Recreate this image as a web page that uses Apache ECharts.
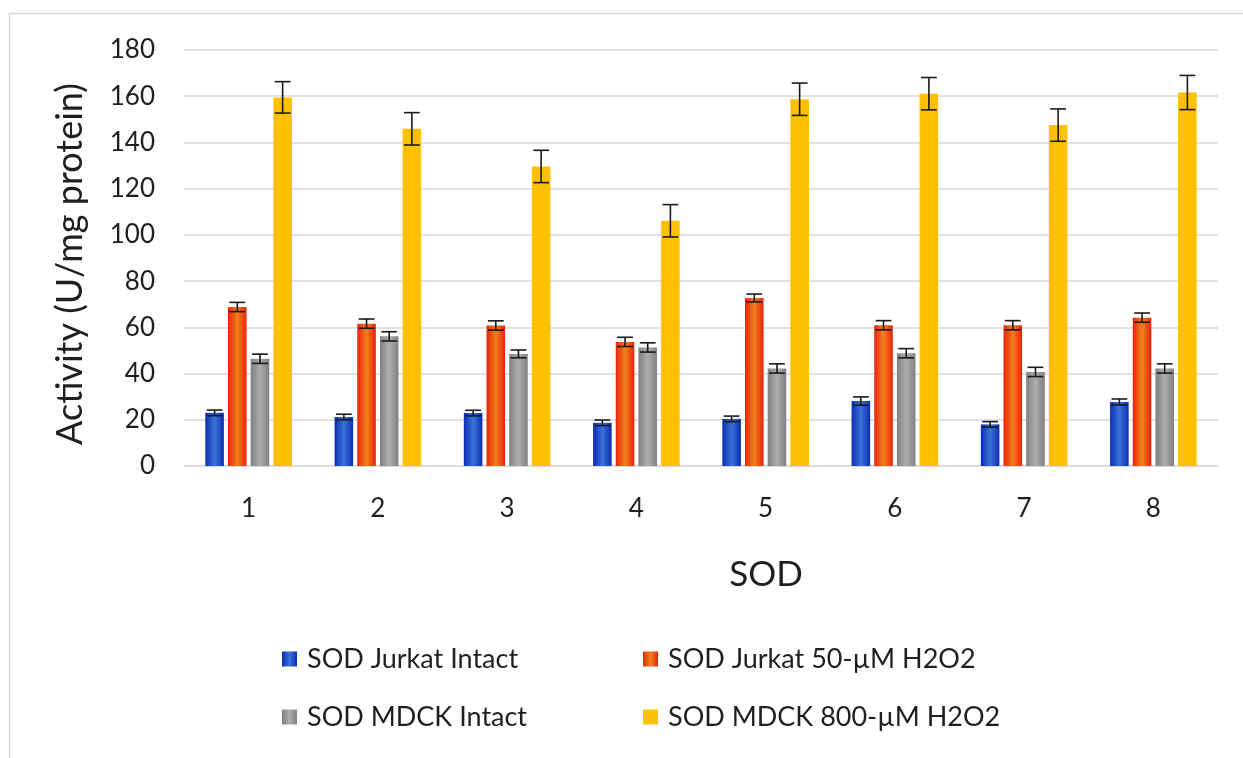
<!DOCTYPE html>
<html>
<head>
<meta charset="utf-8">
<script src="https://cdn.jsdelivr.net/npm/echarts@6/dist/echarts.min.js"></script>
<style>
html,body{margin:0;padding:0;background:#fff;}
#chart{width:1243px;height:758px;}
</style>
</head>
<body>
<div id="chart"></div>
<script>
const categories = ['1','2','3','4','5','6','7','8'];
const seriesNames = ['SOD Jurkat Intact','SOD Jurkat 50-\u00B5M H2O2','SOD MDCK Intact','SOD MDCK 800-\u00B5M H2O2'];
const jurkatIntact = [23, 21.2, 22.9, 18.7, 20.4, 28.1, 18, 27.7];
const jurkatH2O2 = [68.8, 61.6, 60.8, 53.7, 72.7, 60.9, 60.9, 64.2];
const mdckIntact = [46.4, 56.1, 48.5, 51.3, 42.2, 48.8, 40.7, 42.2];
const mdckH2O2 = [159.5, 145.9, 129.6, 106.1, 158.7, 161.1, 147.5, 161.6];
const jurkatIntactErr = [1.2, 1.2, 1.2, 1.2, 1.2, 1.8, 1.2, 1.3];
const jurkatH2O2Err = [2, 2, 2, 2, 1.7, 2, 2, 2];
const mdckIntactErr = [2, 2, 1.7, 2, 2, 2, 2, 2];
const mdckH2O2Err = [6.8, 7, 7, 7, 7, 7, 7, 7.4];
const yTicks = {min: 0, max: 180, interval: 20};
const xTitle = 'SOD';
const yTitle = 'Activity (U/mg protein)';

const values = [jurkatIntact, jurkatH2O2, mdckIntact, mdckH2O2];
const errs = [jurkatIntactErr, jurkatH2O2Err, mdckIntactErr, mdckH2O2Err];

function grad(edge, mid) {
  return {type:'linear', x:0, y:0, x2:1, y2:0, colorStops:[
    {offset:0, color:edge},{offset:0.5, color:mid},{offset:1, color:edge}]};
}
const colors = [
  grad('#0a2db5', '#3a72d6'),
  grad('#e8230c', '#f2801c'),
  grad('#808080', '#adadad'),
  '#ffc000'
];

const CAT_GAP = 0.33, BAR_GAP = 0.22, N = 4;
const FONT = 'Lato, "Open Sans", sans-serif';
const TXT = '#1f1f1f';

const barSeries = values.map((v, i) => ({
  name: seriesNames[i],
  type: 'bar',
  data: v,
  barCategoryGap: (CAT_GAP*100) + '%',
  barGap: (BAR_GAP*100) + '%',
  itemStyle: {color: colors[i]},
  emphasis: {disabled: true}
}));

const errSeries = values.map((v, i) => ({
  type: 'custom',
  name: 'err' + i,
  z: 10,
  silent: true,
  data: v.map((val, k) => [k, val, errs[i][k]]),
  renderItem: function (params, api) {
    const k = api.value(0), val = api.value(1), e = api.value(2);
    const catW = api.size([1, 0])[0];
    const groupW = catW * (1 - CAT_GAP);
    const barW = groupW / (N + (N - 1) * BAR_GAP);
    const offset = (i - (N - 1) / 2) * barW * (1 + BAR_GAP);
    const hi = api.coord([k, val + e]);
    const lo = api.coord([k, val - e]);
    const x = hi[0] + offset;
    const cap = barW * 0.85 / 2;
    const st = {stroke: '#1a1a1a', lineWidth: 1.6};
    return {type: 'group', children: [
      {type: 'line', shape: {x1: x, y1: hi[1], x2: x, y2: lo[1]}, style: st},
      {type: 'line', shape: {x1: x - cap, y1: hi[1], x2: x + cap, y2: hi[1]}, style: st},
      {type: 'line', shape: {x1: x - cap, y1: lo[1], x2: x + cap, y2: lo[1]}, style: st}
    ]};
  }
}));

const legendPos = [[282, 644], [643, 644], [282, 702], [643, 702]];
const legends = seriesNames.map((n, i) => ({
  data: [n],
  left: legendPos[i][0],
  top: legendPos[i][1],
  orient: 'horizontal',
  icon: 'rect',
  itemWidth: 15,
  itemHeight: 15,
  itemGap: 0,
  padding: 0,
  selectedMode: false,
  textStyle: {fontFamily: FONT, fontSize: 27, lineHeight: 30, color: TXT, padding: [0,0,0,5]}
}));

const chart = echarts.init(document.getElementById('chart'), null, {renderer: 'canvas'});
chart.setOption({
  animation: false,
  backgroundColor: '#fff',
  graphic: [
    {type: 'line', shape: {x1: 9.5, y1: 13.5, x2: 1243, y2: 13.5}, style: {stroke: '#d9d9d9', lineWidth: 1.5}},
    {type: 'line', shape: {x1: 9.5, y1: 13.5, x2: 9.5, y2: 758}, style: {stroke: '#d9d9d9', lineWidth: 1.5}},
    {type: 'text', x: 766, y: 575, style: {text: xTitle, font: '35px ' + FONT, fill: TXT, align: 'center', verticalAlign: 'middle'}},
    {type: 'text', x: 70, y: 264, rotation: Math.PI / 2, style: {text: yTitle, font: '36px ' + FONT, fill: TXT, align: 'center', verticalAlign: 'middle'}}
  ],
  grid: {left: 184, right: 25, top: 50, bottom: 292, containLabel: false},
  legend: legends,
  xAxis: {
    type: 'category',
    data: categories,
    axisLine: {show: true, lineStyle: {color: '#d9d9d9', width: 1.5}},
    axisTick: {show: false},
    axisLabel: {fontFamily: FONT, fontSize: 26, color: TXT, margin: 30}
  },
  yAxis: {
    type: 'value',
    min: yTicks.min,
    max: yTicks.max,
    interval: yTicks.interval,
    axisLine: {show: false},
    axisTick: {show: false},
    axisLabel: {fontFamily: FONT, fontSize: 26, color: TXT, margin: 29},
    splitLine: {lineStyle: {color: '#d9d9d9', width: 1.5}}
  },
  series: barSeries.concat(errSeries)
});
</script>
</body>
</html>
